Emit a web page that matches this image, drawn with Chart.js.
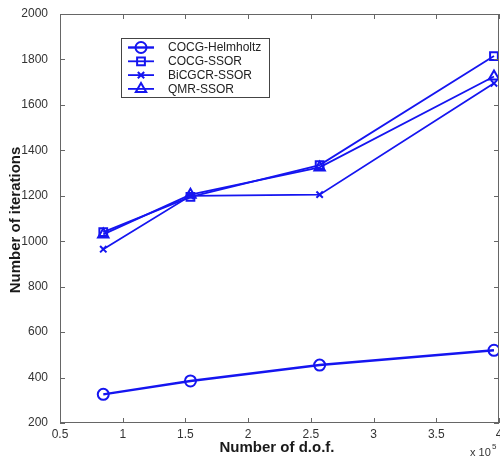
<!DOCTYPE html>
<html>
<head>
<meta charset="utf-8">
<script src="https://cdn.jsdelivr.net/npm/chart.js@4/dist/chart.umd.min.js"></script>
<style>
  html, body { margin: 0; padding: 0; background: #fff; }
  #wrap { width: 500px; height: 459px; }
</style>
</head>
<body>
<div id="wrap"><canvas id="c" width="500" height="459"></canvas></div>
<script>
// data (x in units of 10^5 d.o.f.)
const dof = [0.845, 1.54, 2.57, 3.96];
const cocgHelmholtz = [326, 385, 455, 520];
const cocgSsor = [1040, 1195, 1335, 1815];
const bicgcrSsor = [965, 1200, 1205, 1695];
const qmrSsor = [1030, 1205, 1325, 1725];
const seriesNames = ['COCG-Helmholtz', 'COCG-SSOR', 'BiCGCR-SSOR', 'QMR-SSOR'];
const xTicks = [0.5, 1, 1.5, 2, 2.5, 3, 3.5, 4];
const yTicks = [200, 400, 600, 800, 1000, 1200, 1400, 1600, 1800, 2000];

const BLUE = '#1515f0';
const FONT = 'Liberation Sans, Arial, sans-serif';

function pts(ys) { return dof.map((x, i) => ({ x: x, y: ys[i] })); }

const styles = [
  { pointStyle: 'circle', radius: 5.5, width: 2.4 },
  { pointStyle: 'rect', radius: 5.5, width: 1.8 },
  { pointStyle: 'crossRot', radius: 4.5, width: 1.8 },
  { pointStyle: 'triangle', radius: 6, width: 1.8 }
];

const datasets = [cocgHelmholtz, cocgSsor, bicgcrSsor, qmrSsor].map((ys, i) => ({
  label: seriesNames[i],
  data: pts(ys),
  showLine: true,
  borderColor: BLUE,
  backgroundColor: 'rgba(0,0,0,0)',
  borderWidth: styles[i].width,
  pointStyle: styles[i].pointStyle,
  pointRadius: styles[i].radius,
  pointBorderWidth: 2,
  pointBorderColor: BLUE,
  pointBackgroundColor: 'rgba(0,0,0,0)'
}));

// box, inward ticks, legend and axis titles
const decorPlugin = {
  id: 'decor',
  afterDraw(chart) {
    const ctx = chart.ctx;
    const a = chart.chartArea;
    const xs = chart.scales.x, ys = chart.scales.y;
    ctx.save();
    ctx.strokeStyle = '#666';
    ctx.lineWidth = 1;
    ctx.strokeRect(a.left + 0.5, a.top + 0.5, a.right - a.left - 1, a.bottom - a.top - 1);
    ctx.beginPath();
    xTicks.forEach(v => {
      const px = Math.round(xs.getPixelForValue(v)) + 0.5;
      ctx.moveTo(px, a.bottom); ctx.lineTo(px, a.bottom - 5);
      ctx.moveTo(px, a.top); ctx.lineTo(px, a.top + 5);
    });
    yTicks.forEach(v => {
      const py = Math.round(ys.getPixelForValue(v)) + 0.5;
      ctx.moveTo(a.left, py); ctx.lineTo(a.left + 5, py);
      ctx.moveTo(a.right, py); ctx.lineTo(a.right - 5, py);
    });
    ctx.stroke();

    // legend
    const lx = 121, ly = 38, lw = 148, lh = 59;
    ctx.fillStyle = '#fff';
    ctx.fillRect(lx, ly, lw, lh);
    ctx.strokeStyle = '#444';
    ctx.strokeRect(lx + 0.5, ly + 0.5, lw, lh);
    ctx.font = '12px ' + FONT;
    ctx.textBaseline = 'middle';
    ctx.textAlign = 'left';
    datasets.forEach((d, i) => {
      const y = 47.5 + i * 13.8;
      ctx.strokeStyle = BLUE;
      ctx.lineWidth = d.borderWidth;
      ctx.beginPath();
      ctx.moveTo(128, y); ctx.lineTo(154, y);
      ctx.stroke();
      ctx.lineWidth = 2;
      ctx.fillStyle = 'rgba(0,0,0,0)';
      Chart.helpers.drawPoint(ctx, {
        pointStyle: d.pointStyle, radius: d.pointRadius, rotation: 0, borderWidth: 2
      }, 141, y);
      ctx.fillStyle = '#222';
      ctx.fillText(d.label, 168, y + 0.5);
    });

    // axis titles
    ctx.fillStyle = '#1a1a1a';
    ctx.font = 'bold 15px ' + FONT;
    ctx.textAlign = 'center';
    ctx.fillText('Number of d.o.f.', 277, 448);
    ctx.save();
    ctx.translate(16, 220);
    ctx.rotate(-Math.PI / 2);
    ctx.fillText('Number of iterations', 0, 0);
    ctx.restore();
    ctx.font = '11px ' + FONT;
    ctx.textAlign = 'left';
    ctx.fillStyle = '#333';
    ctx.fillText('x 10', 470, 453);
    ctx.font = '8px ' + FONT;
    ctx.fillText('5', 492, 447);
    ctx.restore();
  }
};

new Chart(document.getElementById('c'), {
  type: 'scatter',
  data: { datasets: datasets },
  options: {
    responsive: false,
    animation: false,
    layout: { autoPadding: false, padding: { top: 14, right: 1, left: 0, bottom: 0 } },
    plugins: { legend: { display: false }, tooltip: { enabled: false } },
    scales: {
      x: {
        type: 'linear',
        min: 0.5, max: 4,
        afterBuildTicks: s => { s.ticks = xTicks.map(v => ({ value: v })); },
        afterFit: s => { s.height = 36; },
        grid: { display: false },
        border: { display: false },
        ticks: {
          color: '#333', padding: -4,
          font: { size: 12, family: FONT },
          maxRotation: 0,
          callback: v => String(v)
        }
      },
      y: {
        type: 'linear',
        min: 200, max: 2000,
        afterBuildTicks: s => { s.ticks = yTicks.map(v => ({ value: v })); },
        afterFit: s => { s.width = 60; },
        grid: { display: false },
        border: { display: false },
        ticks: {
          color: '#333', padding: 4,
          font: { size: 12, family: FONT },
          callback: v => String(v)
        }
      }
    }
  },
  plugins: [decorPlugin]
});
</script>
</body>
</html>
